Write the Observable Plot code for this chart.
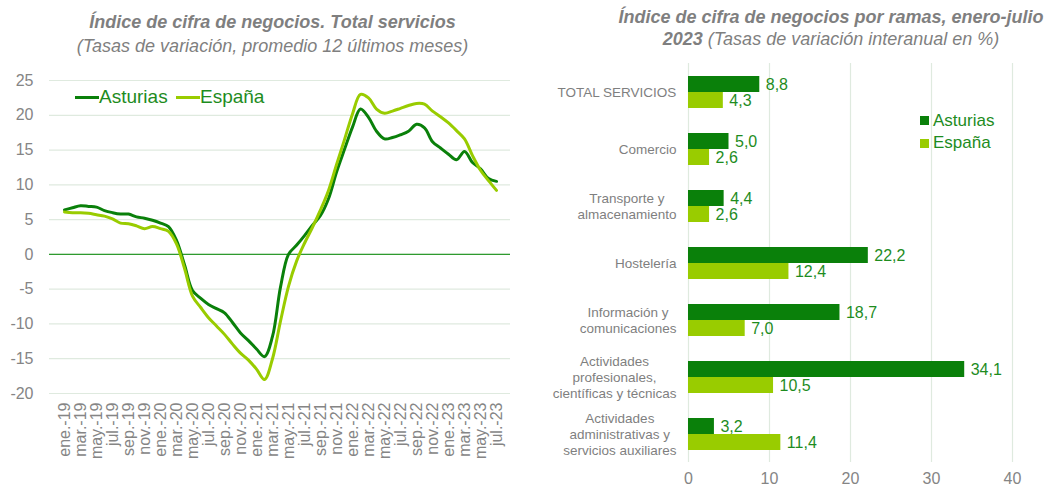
<!DOCTYPE html>
<html><head><meta charset="utf-8">
<script src="https://cdn.jsdelivr.net/npm/d3@7"></script>
<script src="https://cdn.jsdelivr.net/npm/@observablehq/plot@0.6"></script>
<style>
body{margin:0;background:#fff;font-family:"Liberation Sans",Arial,sans-serif;}
#wrap{position:relative;width:1046px;height:493px;overflow:hidden;background:#fff;}
.abs{position:absolute;}
.title{color:#7f7f7f;font-size:18px;text-align:center;font-style:italic;white-space:nowrap;}
.leg{color:#1e8c1e;white-space:nowrap;}
</style></head><body>
<div id="wrap">
  <div class="abs title" style="left:0;width:545px;top:10px;line-height:24px;"><b>Índice de cifra de negocios. Total servicios</b><br>(Tasas de variación, promedio 12 últimos meses)</div>
  <div class="abs title" style="left:606px;width:450px;top:6px;line-height:22px;"><b>Índice de cifra de negocios por ramas, enero-julio</b><br><b>2023</b> (Tasas de variación interanual en %)</div>
  <div id="left" class="abs" style="left:0;top:60px;"></div>
  <div id="right" class="abs" style="left:540px;top:0;"></div>
  <div id="legL"></div>
  <div id="legR"></div>
</div>
<script>
// ---------- Data: left chart ----------
const months = [
 "ene.-19","feb.-19","mar.-19","abr.-19","may.-19","jun.-19","jul.-19","ago.-19","sep.-19","oct.-19","nov.-19","dic.-19",
 "ene.-20","feb.-20","mar.-20","abr.-20","may.-20","jun.-20","jul.-20","ago.-20","sep.-20","oct.-20","nov.-20","dic.-20",
 "ene.-21","feb.-21","mar.-21","abr.-21","may.-21","jun.-21","jul.-21","ago.-21","sep.-21","oct.-21","nov.-21","dic.-21",
 "ene.-22","feb.-22","mar.-22","abr.-22","may.-22","jun.-22","jul.-22","ago.-22","sep.-22","oct.-22","nov.-22","dic.-22",
 "ene.-23","feb.-23","mar.-23","abr.-23","may.-23","jun.-23","jul.-23"];
const asturiasLine = [6.4,6.7,7.0,6.9,6.8,6.3,6.0,5.8,5.8,5.4,5.2,4.9,4.5,4.0,2.0,-1.5,-5.2,-6.3,-7.2,-7.8,-8.4,-9.8,-11.3,-12.4,-13.6,-14.7,-11.8,-4.7,0.0,1.3,2.7,4.2,5.6,8.0,11.8,15.1,18.3,20.9,19.7,17.7,16.6,16.8,17.2,17.7,18.7,18.2,16.2,15.3,14.4,13.6,14.8,13.2,12.3,10.9,10.5];
const espanaLine = [6.1,6.0,6.0,5.9,5.7,5.5,5.1,4.5,4.4,4.1,3.7,4.0,3.7,3.3,1.5,-2.0,-6.0,-7.6,-9.1,-10.3,-11.5,-12.9,-14.2,-15.2,-16.5,-18.0,-15.0,-9.6,-4.6,-1.0,1.6,3.9,6.4,9.2,12.9,16.5,20.2,23.0,22.5,20.9,20.3,20.6,21.0,21.4,21.7,21.6,20.6,19.8,18.9,17.8,16.6,14.2,12.1,10.6,9.2];
const monthTicks = months.filter((d,i)=>i%2===0);
const yTicks = [-20,-15,-10,-5,0,5,10,15,20,25];

// ---------- Data: right chart ----------
const ramas = ["TOTAL SERVICIOS","Comercio","Transporte y\nalmacenamiento","Hostelería","Información y\ncomunicaciones","Actividades\nprofesionales,\ncientíficas y técnicas","Actividades\nadministrativas y\nservicios auxiliares"];
const asturiasBar = [8.8,5.0,4.4,22.2,18.7,34.1,3.2];
const espanaBar = [4.3,2.6,2.6,12.4,7.0,10.5,11.4];
const xTicksR = [0,10,20,30,40];

const series = ["Asturias","España"];
const colors = ["#0a800a","#99cc00"];
const textGreen = "#1e8c1e";
const tickGray = "#858585";
const gridColor = "#dfeadf";

// ---------- Left chart ----------
const lineRows = [];
months.forEach((m,i)=>{
  lineRows.push({month:m, value:asturiasLine[i], series:"Asturias"});
});
months.forEach((m,i)=>{
  lineRows.push({month:m, value:espanaLine[i], series:"España"});
});

const left = Plot.plot({
  width:530, height:433,
  marginTop:20, marginBottom:100, marginLeft:49, marginRight:20,
  style:{fontFamily:"'Liberation Sans', Arial, sans-serif", background:"transparent"},
  x:{type:"point", domain:months, padding:0.5},
  y:{domain:[-20,25]},
  color:{domain:series, range:colors},
  marks:[
    Plot.ruleY(yTicks, {stroke:gridColor, strokeWidth:1.2}),
    Plot.ruleY([0], {stroke:"#2f9a2f", strokeWidth:1.4}),
    Plot.line(lineRows, {x:"month", y:"value", z:"series", stroke:"series", curve:"catmull-rom", strokeWidth:3}),
    Plot.axisY({ticks:yTicks, tickFormat:d=>String(d), tickSize:0, tickPadding:16, fontSize:16, fill:tickGray, label:null}),
    Plot.axisX({ticks:monthTicks, tickRotate:-90, tickSize:0, tickPadding:9, fontSize:16, fill:tickGray, label:null})
  ]
});
document.getElementById("left").appendChild(left);

// ---------- Right chart ----------
const barRows = [];
ramas.forEach((c,i)=>{
  barRows.push({cat:c, series:"Asturias", value:asturiasBar[i]});
  barRows.push({cat:c, series:"España", value:espanaBar[i]});
});
const fmt = v => v.toFixed(1).replace(".", ",");

const catFont = 13.5;
const ctx = document.createElement("canvas").getContext("2d");
ctx.font = `${catFont}px 'Liberation Sans', Arial, sans-serif`;
const labelMarks = ramas.map(c=>{
  const w = Math.max(...c.split("\n").map(s=>ctx.measureText(s).width));
  return Plot.text([c], {fy:d=>d, text:d=>d, frameAnchor:"left", textAnchor:"middle", dx:-(12 + w/2), fontSize:catFont, lineHeight:1.2, fill:"#7f7f7f"});
});

const right = Plot.plot({
  width:506, height:493,
  marginTop:60, marginBottom:28, marginLeft:148, marginRight:34,
  style:{fontFamily:"'Liberation Sans', Arial, sans-serif", background:"transparent"},
  x:{domain:[0,40]},
  fy:{domain:ramas, padding:0, axis:null},
  y:{domain:series, paddingInner:0, paddingOuter:0.77, axis:null},
  color:{domain:series, range:colors},
  marks:[
    Plot.ruleX(xTicksR, {stroke:gridColor, strokeWidth:1.2}),
    Plot.barX(barRows, {x:"value", y:"series", fy:"cat", fill:"series"}),
    Plot.text(barRows, {x:"value", y:"series", fy:"cat", text:d=>fmt(d.value), dx:6, textAnchor:"start", fill:textGreen, fontSize:16}),
    ...labelMarks,
    Plot.axisX({ticks:xTicksR, tickSize:0, tickPadding:10, fontSize:16, fill:tickGray, label:null})
  ]
});
document.getElementById("right").appendChild(right);

// ---------- Legends ----------
const legL = document.getElementById("legL");
[[75,"Asturias",0],[176,"España",1]].forEach(([x,name,i])=>{
  const sw = document.createElement("div");
  sw.className="abs";
  sw.style.cssText=`left:${x}px;top:95.5px;width:24px;height:3px;background:${colors[i]}`;
  legL.appendChild(sw);
  const t = document.createElement("div");
  t.className="abs leg";
  t.style.cssText=`left:${x+24}px;top:86px;font-size:19px;line-height:22px;`;
  t.textContent=name;
  legL.appendChild(t);
});
const legR = document.getElementById("legR");
[[120.7,"Asturias",0],[143.3,"España",1]].forEach(([y,name,i])=>{
  const sw = document.createElement("div");
  sw.className="abs";
  sw.style.cssText=`left:920px;top:${y-4.5}px;width:9px;height:9px;background:${colors[i]}`;
  legR.appendChild(sw);
  const t = document.createElement("div");
  t.className="abs leg";
  t.style.cssText=`left:933px;top:${y-10}px;font-size:17px;line-height:20px;`;
  t.textContent=name;
  legR.appendChild(t);
});
</script>
</body></html>
